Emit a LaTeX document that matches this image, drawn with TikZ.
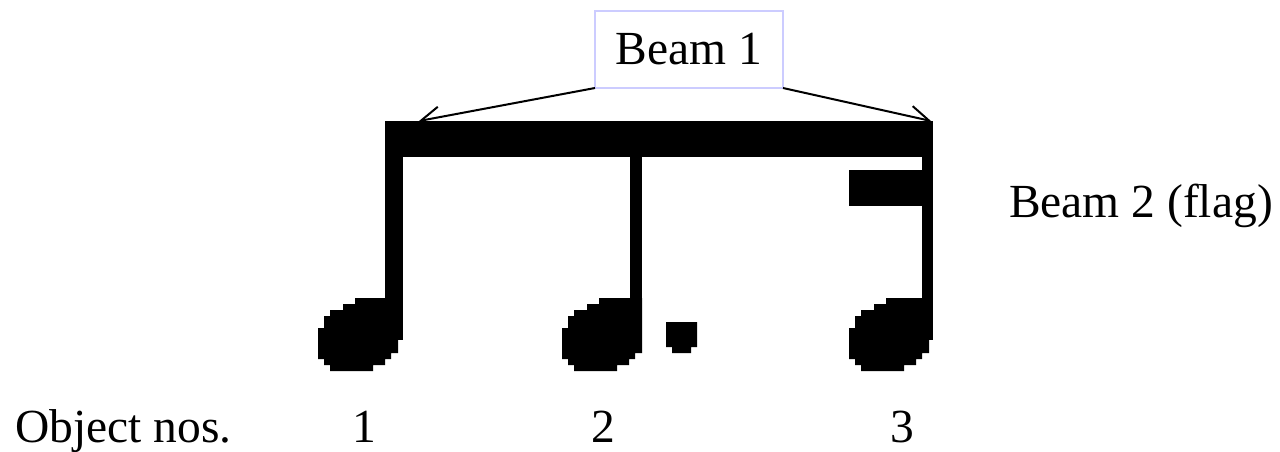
\documentclass[tikz,border=0pt]{standalone}
\usepackage{fontspec}
\setmainfont{Liberation Serif}
\usetikzlibrary{arrows.meta}

\tikzset{
  lbl/.style={inner sep=0pt, outer sep=0pt, font=\fontsize{47.5}{57}\selectfont},
  beambox/.style={lbl, draw={rgb,255:red,204;green,204;blue,255}, line width=2pt,
    minimum width=188pt, minimum height=77pt},
  pointer/.style={line width=2pt, -{Straight Barb[length=19pt,width=21pt,line width=2pt]}},
  ink/.style={fill=black},
  notehead/.pic={
    \fill[ink] (37,0) -- (80,0) -- (80,55) -- (73,55) -- (73,61) -- (67,61) -- (67,67)
      -- (55,67) -- (55,73) -- (12,73) -- (12,67) -- (6,67) -- (6,61) -- (0,61)
      -- (0,30) -- (6,30) -- (6,18) -- (12,18) -- (12,12) -- (25,12) -- (25,6)
      -- (37,6) -- cycle;
  }
}

\begin{document}
\begin{tikzpicture}[x=1pt,y=-1pt]
  \useasboundingbox (0,0) rectangle (1280,452);

  % beam, stems and flag
  \fill[ink] (385,121) rectangle (933,157);
  \fill[ink] (385,121) rectangle (403,340);
  \fill[ink] (630,121) rectangle (642,340);
  \fill[ink] (922,121) rectangle (933,340);
  \fill[ink] (849,170) rectangle (933,206);

  % note heads
  \pic at (318,298) {notehead};
  \pic at (562,298) {notehead};
  \pic at (849,298) {notehead};

  % augmentation dot
  \fill[ink] (666,322) -- (697,322) -- (697,347) -- (691,347) -- (691,353)
    -- (672,353) -- (672,347) -- (666,347) -- cycle;

  % labels
  \node[beambox] (b1) at (689,49.5) {Beam 1};
  \coordinate (t1) at (419,121);
  \coordinate (t2) at (931,121);
  \draw[pointer] (b1.south west) -- (t1);
  \draw[pointer] (b1.south east) -- (t2);

  \node[lbl, anchor=base west] (b2) at (1009,217) {Beam 2 (flag)};
  \node[lbl, anchor=base west] (obj) at (15,442) {Object nos.};
  \node[lbl, anchor=base] (n1) at (364,442) {1};
  \node[lbl, anchor=base] (n2) at (603,442) {2};
  \node[lbl, anchor=base] (n3) at (902,442) {3};
\end{tikzpicture}
\end{document}
